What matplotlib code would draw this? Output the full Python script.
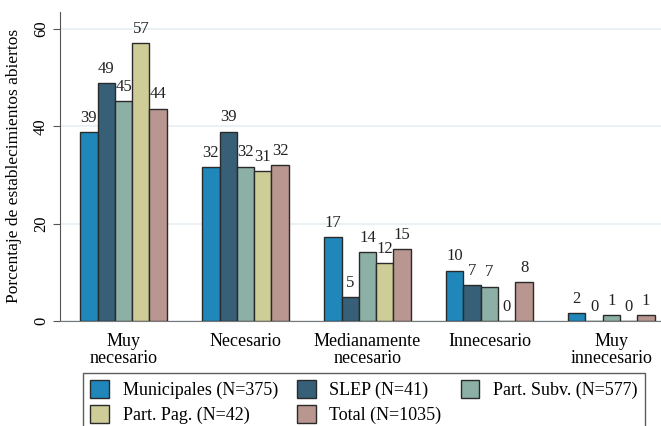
import numpy as np
import matplotlib.pyplot as plt
from matplotlib.patches import Patch

plt.rcParams['font.family'] = ['Liberation Serif', 'DejaVu Serif']

categorias = ['Muy\nnecesario', 'Necesario', 'Medianamente\nnecesario', 'Innecesario', 'Muy\ninnecesario']
series = ['Municipales (N=375)', 'SLEP (N=41)', 'Part. Subv. (N=577)', 'Part. Pag. (N=42)', 'Total (N=1035)']
municipales = [38.8, 31.6, 17.2, 10.3, 1.5]
slep = [48.8, 38.9, 4.9, 7.3, 0.0]
part_subv = [45.2, 31.7, 14.1, 7.0, 1.2]
part_pag = [57.1, 30.8, 11.9, 0.0, 0.0]
total = [43.6, 32.0, 14.8, 8.0, 1.2]
etiquetas = [
    ['39', '32', '17', '10', '2'],
    ['49', '39', '5', '7', '0'],
    ['45', '32', '14', '7', '1'],
    ['57', '31', '12', '0', '0'],
    ['44', '32', '15', '8', '1'],
]
colores = ['#1f87b9', '#375f78', '#8cafa6', '#cfcd97', '#b99690']

valores = [municipales, slep, part_subv, part_pag, total]

fig = plt.figure(figsize=(6.61, 4.26), dpi=100)
ax = fig.add_axes([0.0908, 0.247, 0.9092, 0.725])

x = np.arange(len(categorias))
w = 0.142
for i in range(len(series)):
    pos = x + (i - 2) * w
    ax.bar(pos, valores[i], width=w, color=colores[i], edgecolor='#2a2a2a',
           linewidth=1.0, label=series[i], zorder=3)
    for px, v, t in zip(pos, valores[i], etiquetas[i]):
        ax.annotate(t, (px, v), xytext=(0, 4.5), textcoords='offset points',
                    ha='center', va='bottom', fontsize=12, color='#222222')

ax.set_xlim(-0.5205, 4.406)
ax.set_ylim(0, 63.5)
ax.set_yticks([0, 20, 40, 60])
ax.set_yticklabels(['0', '20', '40', '60'], rotation=90, va='center', fontsize=12)
ax.set_xticks(x)
ax.set_xticklabels(categorias, fontsize=13, linespacing=0.98)
ax.tick_params(axis='x', length=0, pad=9)
ax.tick_params(axis='y', length=5, color='#555555', pad=3)
ax.yaxis.grid(True, color='#e6eff2', linewidth=1.2, zorder=0)
ax.set_axisbelow(True)
for s in ['top', 'right']:
    ax.spines[s].set_visible(False)
ax.spines['left'].set_color('#555555')
ax.spines['bottom'].set_color('#777777')
ax.set_ylabel('Porcentaje de establecimientos abiertos', fontsize=12.5, labelpad=8)

# orden por filas como en la leyenda original
orden = [0, 3, 1, 4, 2]
handles = [Patch(facecolor=colores[i], edgecolor='#2a2a2a', linewidth=1.0) for i in orden]
leg = fig.legend(handles, [series[i] for i in orden], ncol=3, loc='upper left',
                 bbox_to_anchor=(83 / 661, 1 - 373 / 426), borderaxespad=0,
                 fontsize=13, frameon=True, fancybox=False, edgecolor='#333333',
                 handlelength=1.05, handleheight=1.1, handletextpad=0.75,
                 columnspacing=1.05, borderpad=0.4, labelspacing=0.35)
leg.get_frame().set_linewidth(1.0)

fig.savefig('out.png', dpi=100)
